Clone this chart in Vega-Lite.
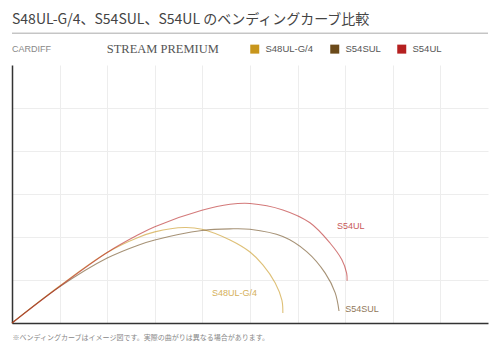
{
  "$schema": "https://vega.github.io/schema/vega-lite/v6.json",
  "autosize": "none",
  "width": 476,
  "height": 258,
  "padding": {"left": 12, "top": 65, "right": 12, "bottom": 32},
  "background": "white",
  "title": {
    "text": "S48UL-G/4、S54SUL、S54UL のベンディングカーブ比較",
    "anchor": "start",
    "frame": "group",
    "font": "Noto Sans CJK JP",
    "fontSize": 14,
    "fontWeight": "normal",
    "color": "#444444",
    "offset": 6
  },
  "config": {
    "view": {"stroke": null},
    "font": "Liberation Sans"
  },
  "datasets": {
    "curves": [
      {"model": "S48UL-G/4", "x": 0, "y": 0},
      {"model": "S48UL-G/4", "x": 1.0, "y": 0.86},
      {"model": "S48UL-G/4", "x": 2.0, "y": 1.64},
      {"model": "S48UL-G/4", "x": 2.65, "y": 1.99},
      {"model": "S48UL-G/4", "x": 3.0, "y": 2.12},
      {"model": "S48UL-G/4", "x": 3.63, "y": 2.22},
      {"model": "S48UL-G/4", "x": 3.99, "y": 2.18},
      {"model": "S48UL-G/4", "x": 4.58, "y": 1.93},
      {"model": "S48UL-G/4", "x": 5.0, "y": 1.65},
      {"model": "S48UL-G/4", "x": 5.27, "y": 1.35},
      {"model": "S48UL-G/4", "x": 5.53, "y": 0.93},
      {"model": "S48UL-G/4", "x": 5.67, "y": 0.53},
      {"model": "S48UL-G/4", "x": 5.69, "y": 0.23},
      {"model": "S54SUL", "x": 0, "y": 0},
      {"model": "S54SUL", "x": 1.0, "y": 0.84},
      {"model": "S54SUL", "x": 2.0, "y": 1.51},
      {"model": "S54SUL", "x": 2.65, "y": 1.81},
      {"model": "S54SUL", "x": 3.0, "y": 1.93},
      {"model": "S54SUL", "x": 3.99, "y": 2.15},
      {"model": "S54SUL", "x": 4.58, "y": 2.19},
      {"model": "S54SUL", "x": 5.0, "y": 2.18},
      {"model": "S54SUL", "x": 5.69, "y": 2.01},
      {"model": "S54SUL", "x": 6.19, "y": 1.66},
      {"model": "S54SUL", "x": 6.58, "y": 1.16},
      {"model": "S54SUL", "x": 6.79, "y": 0.7},
      {"model": "S54SUL", "x": 6.87, "y": 0.28},
      {"model": "S54UL", "x": 0, "y": 0},
      {"model": "S54UL", "x": 1.0, "y": 0.85},
      {"model": "S54UL", "x": 2.0, "y": 1.64},
      {"model": "S54UL", "x": 2.65, "y": 2.05},
      {"model": "S54UL", "x": 3.0, "y": 2.24},
      {"model": "S54UL", "x": 3.99, "y": 2.62},
      {"model": "S54UL", "x": 4.58, "y": 2.76},
      {"model": "S54UL", "x": 5.0, "y": 2.78},
      {"model": "S54UL", "x": 5.69, "y": 2.63},
      {"model": "S54UL", "x": 6.26, "y": 2.33},
      {"model": "S54UL", "x": 6.68, "y": 1.86},
      {"model": "S54UL", "x": 6.93, "y": 1.47},
      {"model": "S54UL", "x": 7.03, "y": 1.16},
      {"model": "S54UL", "x": 7.04, "y": 0.98}
    ],
    "labels": [
      {"model": "S48UL-G/4", "lx": 4.2, "ly": 0.7},
      {"model": "S54SUL", "lx": 7.0, "ly": 0.33},
      {"model": "S54UL", "lx": 6.83, "ly": 2.26}
    ]
  },
  "layer": [
    {
      "data": {"name": "curves"},
      "mark": {"type": "line", "interpolate": "catmull-rom", "strokeWidth": 1.1, "strokeOpacity": 0.6},
      "encoding": {
        "x": {
          "field": "x", "type": "quantitative",
          "scale": {"domain": [0, 10], "nice": false, "zero": true},
          "axis": {
            "values": [1, 2, 3, 4, 5, 6, 7, 8, 9],
            "labels": false, "ticks": false,
            "domainColor": "#333333", "domainWidth": 1.5,
            "gridColor": "#ededed", "gridWidth": 1,
            "title": "※ベンディングカーブはイメージ図です。実際の曲がりは異なる場合があります。",
            "titleAnchor": "start", "titleFont": "Noto Sans CJK JP",
            "titleFontSize": 7, "titleFontWeight": "normal", "titleColor": "#888888",
            "titlePadding": 10
          }
        },
        "y": {
          "field": "y", "type": "quantitative",
          "scale": {"domain": [0, 6], "nice": false, "zero": true},
          "axis": {
            "values": [1, 2, 3, 4, 5],
            "labels": false, "ticks": false, "title": null,
            "domainColor": "#333333", "domainWidth": 1.5,
            "gridColor": "#ededed", "gridWidth": 1
          }
        },
        "color": {
          "field": "model", "type": "nominal",
          "scale": {"domain": ["S48UL-G/4", "S54SUL", "S54UL"], "range": ["#c8961c", "#6b4a1a", "#b52020"]},
          "legend": {
            "orient": "none", "legendX": 238, "legendY": -21,
            "direction": "horizontal", "title": null,
            "symbolType": "square", "symbolSize": 81, "symbolStrokeWidth": 0,
            "labelFontSize": 9.5, "labelColor": "#555555", "labelFont": "Liberation Sans",
            "labelOffset": 6, "columnPadding": 16,
            "encode": {"symbols": {"update": {"fill": {"scale": "color", "field": "value"}, "fillOpacity": {"value": 1}, "opacity": {"value": 1}, "strokeWidth": {"value": 0}}}}
          }
        }
      }
    },
    {
      "data": {"name": "labels"},
      "mark": {"type": "text", "align": "left", "baseline": "middle", "fontSize": 9, "font": "Liberation Sans"},
      "encoding": {
        "x": {"field": "lx", "type": "quantitative"},
        "y": {"field": "ly", "type": "quantitative"},
        "text": {"field": "model"},
        "color": {
          "field": "model", "type": "nominal",
          "scale": {"domain": ["S48UL-G/4", "S54SUL", "S54UL"], "range": ["#c8961c", "#6b4a1a", "#b52020"]},
          "legend": null
        },
        "opacity": {"value": 0.75}
      }
    },
    {
      "data": {"values": [{}]},
      "mark": {"type": "rule", "color": "#aaaaaa", "strokeWidth": 1, "clip": false},
      "encoding": {"x": {"datum": 0}, "x2": {"datum": 10}, "y": {"datum": 6.74}}
    },
    {
      "data": {"values": [{}]},
      "mark": {"type": "text", "text": "CARDIFF", "align": "left", "baseline": "middle", "font": "Liberation Sans", "fontSize": 9, "color": "#888888"},
      "encoding": {"x": {"datum": 0}, "y": {"datum": 6.37}}
    },
    {
      "data": {"values": [{}]},
      "mark": {"type": "text", "text": "STREAM PREMIUM", "align": "left", "baseline": "middle", "font": "Liberation Serif", "fontSize": 12.5, "color": "#555555"},
      "encoding": {"x": {"datum": 1.99}, "y": {"datum": 6.37}}
    }
  ]
}
